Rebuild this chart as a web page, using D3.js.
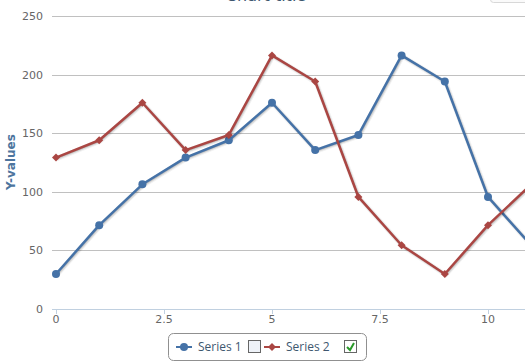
<!DOCTYPE html>
<html>
<head>
<meta charset="utf-8">
<script src="https://cdn.jsdelivr.net/npm/d3@7"></script>
<style>
html, body { margin:0; padding:0; background:#fff; overflow:hidden; }
svg { display:block; font-family:"Lucida Grande","DejaVu Sans",Verdana,sans-serif; }
</style>
</head>
<body>
<div id="chart"></div>
<script>
var xValues = [0, 1, 2, 3, 4, 5, 6, 7, 8, 9, 10, 11];
var series1 = [29.9, 71.5, 106.4, 129.2, 144.0, 176.0, 135.6, 148.5, 216.4, 194.1, 95.6, 54.4];
var series2 = [129.2, 144.0, 176.0, 135.6, 148.5, 216.4, 194.1, 95.6, 54.4, 29.9, 71.5, 106.4];
var seriesNames = ['Series 1', 'Series 2'];
var xTicks = [0, 2.5, 5, 7.5, 10];
var yTicks = [0, 50, 100, 150, 200, 250];

var W = 525, H = 364;
var opt = {
	left : 56,
	unitX : 43.2,
	top : 16,
	bottom : 309,
	colors : ['#4572A7', '#AA4643']
};

var svg = d3.select('#chart').append('svg')
	.attr('width', W)
	.attr('height', H);

var x = d3.scaleLinear().domain([0, 11]).range([opt.left, opt.left + 11 * opt.unitX]);
var y = d3.scaleLinear().domain([0, 250]).range([opt.bottom, opt.top]);

//title (cut at the top, as in the original)
svg.append('text')
	.attr('x', 266)
	.attr('y', 1)
	.attr('text-anchor', 'middle')
	.attr('fill', '#3E576F')
	.attr('font-size', '16px')
	.text('Chart title');

//export button
svg.append('rect')
	.attr('x', 490.5).attr('y', -20.5)
	.attr('width', 40).attr('height', 23)
	.attr('rx', 3).attr('ry', 3)
	.attr('fill', '#fafafa')
	.attr('stroke', '#d8d8d8');

//grid
var grid = svg.append('g');
grid.selectAll('line')
	.data(yTicks.filter(function(d){ return d > 0; }))
	.enter().append('line')
	.attr('x1', 52).attr('x2', W)
	.attr('y1', function(d){ return Math.round(y(d)) + 0.5; })
	.attr('y2', function(d){ return Math.round(y(d)) + 0.5; })
	.attr('stroke', '#c0c0c0')
	.attr('stroke-width', 1);

//y labels
svg.append('g').selectAll('text')
	.data(yTicks)
	.enter().append('text')
	.attr('x', 43)
	.attr('y', function(d){ return y(d) + 4; })
	.attr('text-anchor', 'end')
	.attr('fill', '#666')
	.attr('font-size', '11px')
	.text(function(d){ return d; });

svg.append('text')
	.attr('transform', 'translate(15,162) rotate(-90)')
	.attr('text-anchor', 'middle')
	.attr('fill', '#4d759e')
	.attr('font-size', '12px')
	.attr('font-weight', 'bold')
	.text('Y-values');

//x axis
var xa = svg.append('g');
xa.append('line')
	.attr('x1', 52).attr('x2', W)
	.attr('y1', opt.bottom + 0.5).attr('y2', opt.bottom + 0.5)
	.attr('stroke', '#C0D0E0');
xa.selectAll('line.tick')
	.data(xTicks)
	.enter().append('line')
	.attr('class', 'tick')
	.attr('x1', function(d){ return Math.round(x(d)) + 0.5; })
	.attr('x2', function(d){ return Math.round(x(d)) + 0.5; })
	.attr('y1', opt.bottom).attr('y2', opt.bottom + 5)
	.attr('stroke', '#C0D0E0');
xa.selectAll('text')
	.data(xTicks)
	.enter().append('text')
	.attr('x', function(d){ return x(d); })
	.attr('y', 323)
	.attr('text-anchor', 'middle')
	.attr('fill', '#666')
	.attr('font-size', '11px')
	.text(function(d){ return d; });

//series
var line = d3.line()
	.x(function(d, i){ return x(xValues[i]); })
	.y(function(d){ return y(d); });

var diamond = function(cx, cy, r){
	return 'M' + cx + ',' + (cy - r) + 'L' + (cx + r) + ',' + cy + 'L' + cx + ',' + (cy + r) + 'L' + (cx - r) + ',' + cy + 'Z';
};

[series1, series2].forEach(function(data, s){
	var g = svg.append('g');
	//shadow
	for(var i = 1; i <= 3; i++){
		g.append('path')
			.attr('d', line(data))
			.attr('fill', 'none')
			.attr('stroke', '#000')
			.attr('stroke-opacity', 0.05 * i)
			.attr('stroke-width', 7 - 2 * i)
			.attr('stroke-linejoin', 'round')
			.attr('transform', 'translate(1,1)');
	}
	g.append('path')
		.attr('d', line(data))
		.attr('fill', 'none')
		.attr('stroke', opt.colors[s])
		.attr('stroke-width', 2.5)
		.attr('stroke-linejoin', 'round');
	if(s === 0){
		g.selectAll('circle')
			.data(data)
			.enter().append('circle')
			.attr('cx', function(d, i){ return x(xValues[i]); })
			.attr('cy', function(d){ return y(d); })
			.attr('r', 4)
			.attr('fill', opt.colors[s]);
	}else{
		g.selectAll('path.m')
			.data(data)
			.enter().append('path')
			.attr('class', 'm')
			.attr('d', function(d, i){ return diamond(x(xValues[i]), y(d), 4); })
			.attr('fill', opt.colors[s]);
	}
});

//legend
var lg = svg.append('g');
lg.append('rect')
	.attr('x', 168.5).attr('y', 333.5)
	.attr('width', 198).attr('height', 27)
	.attr('rx', 5).attr('ry', 5)
	.attr('fill', '#fff')
	.attr('stroke', '#909090');

var items = [
	{ x : 176, checked : false },
	{ x : 264, checked : true }
];
items.forEach(function(it, s){
	var cy = 347;
	lg.append('line')
		.attr('x1', it.x).attr('x2', it.x + 16)
		.attr('y1', cy).attr('y2', cy)
		.attr('stroke', opt.colors[s])
		.attr('stroke-width', 2);
	if(s === 0){
		lg.append('circle').attr('cx', it.x + 8).attr('cy', cy).attr('r', 4).attr('fill', opt.colors[s]);
	}else{
		lg.append('path').attr('d', diamond(it.x + 8, cy, 4)).attr('fill', opt.colors[s]);
	}
	lg.append('text')
		.attr('x', it.x + 22)
		.attr('y', cy + 4)
		.attr('fill', '#3E576F')
		.attr('font-family', '"Open Sans","Noto Sans",sans-serif')
		.attr('font-size', '12px')
		.text(seriesNames[s]);
	var bx = it.x + 72 + (s === 1 ? 8 : 0);
	lg.append('rect')
		.attr('x', bx + 0.5).attr('y', cy - 6.5)
		.attr('width', 12).attr('height', 12)
		.attr('fill', it.checked ? '#fff' : '#eef2f8')
		.attr('stroke', '#666');
	if(it.checked){
		lg.append('path')
			.attr('d', 'M' + (bx + 3) + ',' + (cy) + 'L' + (bx + 6) + ',' + (cy + 3) + 'L' + (bx + 10) + ',' + (cy - 4))
			.attr('fill', 'none')
			.attr('stroke', '#2a9a2a')
			.attr('stroke-width', 2);
	}
});
</script>
</body>
</html>
